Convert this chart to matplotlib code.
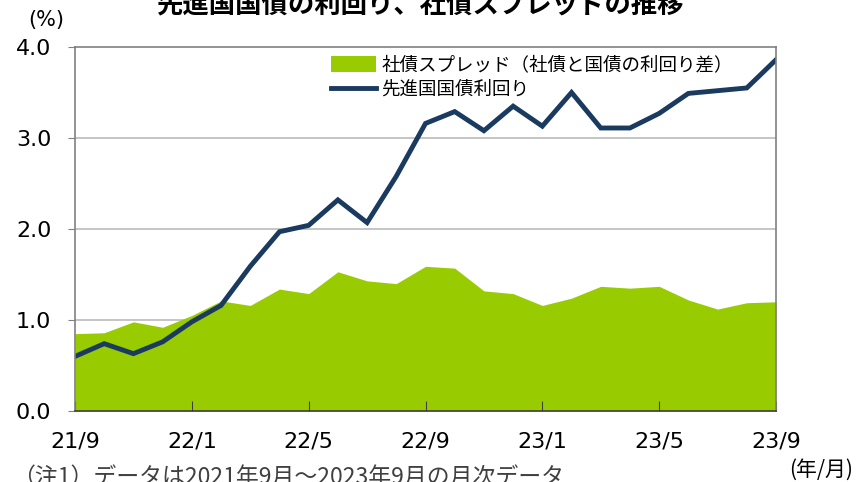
import matplotlib
matplotlib.use("Agg")
import matplotlib.pyplot as plt

plt.rcParams['font.family'] = ['Noto Sans CJK JP', 'DejaVu Sans']

months = ['21/9', '21/10', '21/11', '21/12', '22/1', '22/2', '22/3', '22/4', '22/5',
          '22/6', '22/7', '22/8', '22/9', '22/10', '22/11', '22/12', '23/1', '23/2',
          '23/3', '23/4', '23/5', '23/6', '23/7', '23/8', '23/9']
spread = [0.85, 0.86, 0.98, 0.92, 1.05, 1.21, 1.16, 1.34, 1.29, 1.53, 1.43, 1.40, 1.59,
          1.57, 1.32, 1.29, 1.16, 1.24, 1.37, 1.35, 1.37, 1.22, 1.12, 1.19, 1.20]
yield_ = [0.60, 0.74, 0.63, 0.76, 0.98, 1.16, 1.59, 1.97, 2.04, 2.32, 2.07, 2.58, 3.16,
          3.29, 3.08, 3.35, 3.13, 3.50, 3.11, 3.11, 3.27, 3.49, 3.52, 3.55, 3.86]
tick_labels = ['21/9', '22/1', '22/5', '22/9', '23/1', '23/5', '23/9']

x = list(range(len(months)))
num_font = ['DejaVu Sans']

fig = plt.figure(figsize=(8.56, 4.82), dpi=100)
ax = fig.add_axes([75/856, 1-411/482, 701/856, 364/482])

for g in [1, 2, 3]:
    ax.axhline(g, color='#C0C0C0', lw=1.3, zorder=0)

ax.fill_between(x, spread, 0, color='#99CC00', lw=0, zorder=1,
                label='社債スプレッド（社債と国債の利回り差）')
ax.plot(x, yield_, color='#1B3A60', lw=3.5, zorder=2, label='先進国国債利回り',
        solid_joinstyle='miter')

ax.set_xlim(0, 24)
ax.set_ylim(0, 4)
ax.set_yticks([0, 1, 2, 3, 4])
ax.set_yticklabels(['0.0', '1.0', '2.0', '3.0', '4.0'], fontsize=16, family=num_font)
ax.set_xticks([0, 4, 8, 12, 16, 20, 24])
ax.set_xticklabels(tick_labels, fontsize=16, family=num_font)
ax.tick_params(axis='y', direction='out', length=5, color='#808080', pad=12)
ax.tick_params(axis='x', direction='in', length=7, color='#404040', pad=15)

for s in ['left', 'top', 'right']:
    ax.spines[s].set_color('#808080')
    ax.spines[s].set_linewidth(1.2)
ax.spines['bottom'].set_color('#404040')
ax.spines['bottom'].set_linewidth(1.2)

leg = ax.legend(loc='upper left', bbox_to_anchor=(0.355, 0.995), frameon=False,
                fontsize=13.3, handlelength=2.4, handleheight=0.9,
                labelspacing=0.35, handletextpad=0.3, borderaxespad=0)

fig.text(421/856, 1-6/482, '先進国国債の利回り、社債スプレッドの推移', ha='center',
         va='center', fontsize=19, fontweight='bold')
fig.text(46/856, 1-20/482, '(%)', ha='center', va='center', fontsize=15, family=num_font)
fig.text(821/856, 1-470/482, '(年/月)', ha='center', va='center', fontsize=15)
fig.text(12/856, 1-466/482, '（注1）データは2021年9月～2023年9月の月次データ',
         ha='left', va='top', fontsize=16.5, color='#404040')

fig.savefig('out.png', dpi=100)
